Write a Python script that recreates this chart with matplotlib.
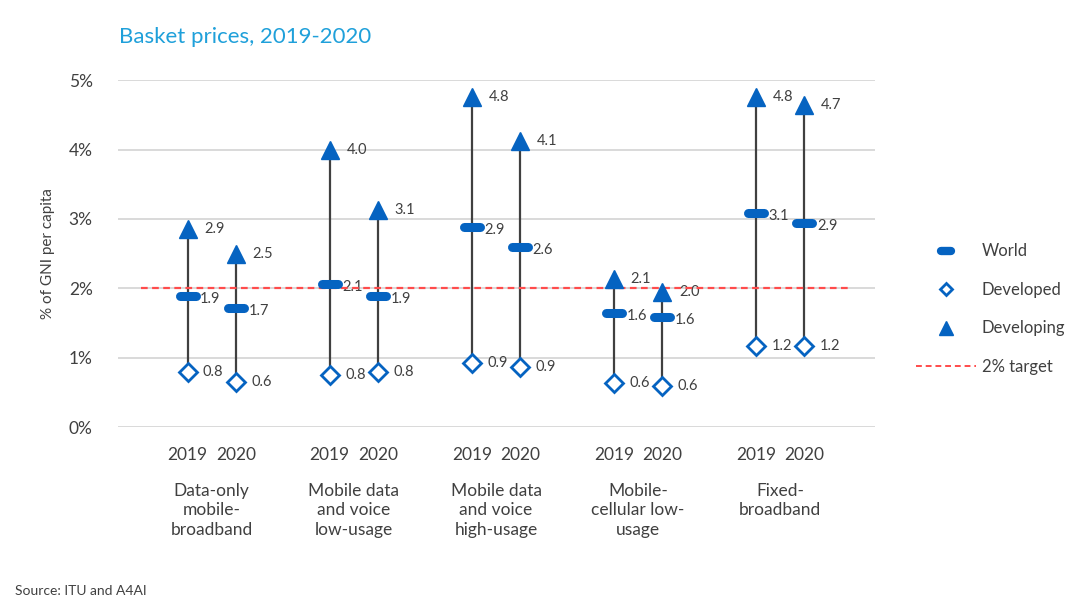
import matplotlib.pyplot as plt
import numpy as np
from matplotlib.lines import Line2D
from matplotlib.markers import MarkerStyle

categories = ["Data-only\nmobile-\nbroadband", "Mobile data\nand voice\nlow-usage",
              "Mobile data\nand voice\nhigh-usage", "Mobile-\ncellular low-\nusage",
              "Fixed-\nbroadband"]
years = ["2019", "2020"]
# values per category: [2019, 2020]
world = [[1.89, 1.71], [2.06, 1.89], [2.88, 2.59], [1.64, 1.59], [3.08, 2.94]]
developed = [[0.79, 0.65], [0.75, 0.79], [0.92, 0.86], [0.63, 0.59], [1.17, 1.17]]
developing = [[2.85, 2.50], [3.99, 3.13], [4.76, 4.13], [2.13, 1.95], [4.76, 4.64]]
world_lbl = [["1.9", "1.7"], ["2.1", "1.9"], ["2.9", "2.6"], ["1.6", "1.6"], ["3.1", "2.9"]]
dev_lbl = [["0.8", "0.6"], ["0.8", "0.8"], ["0.9", "0.9"], ["0.6", "0.6"], ["1.2", "1.2"]]
devg_lbl = [["2.9", "2.5"], ["4.0", "3.1"], ["4.8", "4.1"], ["2.1", "2.0"], ["4.8", "4.7"]]
target = 2.0

blue = "#0563c1"
txt = "#404040"
plt.rcParams['font.family'] = ["Lato", "DejaVu Sans"]

fig = plt.figure(figsize=(10.8, 5.99), dpi=100)
ax = fig.add_axes([0.109, 0.287, 0.701, 0.579])

off = 0.17
bar = MarkerStyle('_', capstyle='round')
for i in range(len(categories)):
    for j, sgn in enumerate([-1, 1]):
        x = i + sgn * off
        ax.plot([x, x], [developed[i][j], developing[i][j]], color=txt, lw=1.6, zorder=2)
        ax.plot(x, developing[i][j], marker='^', ms=13, color=blue, zorder=4)
        ax.plot(x, world[i][j], marker=bar, ms=11, mew=6.5, color=blue, zorder=4)
        ax.plot(x, developed[i][j], marker='D', ms=9, mfc='white', mec=blue, mew=2, zorder=4)
        ax.annotate(devg_lbl[i][j], (x, developing[i][j]), xytext=(12, 0), textcoords='offset points',
                    va='center', fontsize=10.5, color=txt)
        ax.annotate(world_lbl[i][j], (x, world[i][j]), xytext=(9, -2), textcoords='offset points',
                    va='center', fontsize=10.5, color=txt)
        ax.annotate(dev_lbl[i][j], (x, developed[i][j]), xytext=(11, 0), textcoords='offset points',
                    va='center', fontsize=10.5, color=txt)

ax.plot([-0.5, 4.5], [target, target], color="#ff4b4b", lw=1.6, ls=(0, (3, 2)), zorder=3)

ax.set_xlim(-0.662, 4.665)
ax.set_ylim(0, 5)
ax.set_yticks(range(6))
ax.set_yticklabels([f"{v}%" for v in range(6)], fontsize=12.5, color=txt)
ax.yaxis.grid(True, color="#d9d9d9", lw=1.4)
ax.set_axisbelow(True)
for s in ax.spines.values():
    s.set_visible(False)
ax.tick_params(axis='y', length=0, pad=18)
ax.tick_params(axis='x', length=0, pad=14)
xt = [i + s * off for i in range(len(categories)) for s in (-1, 1)]
ax.set_xticks(xt)
ax.set_xticklabels(years * len(categories), fontsize=12.5, color=txt)
for i, c in enumerate(categories):
    ax.text(i, -0.8, c, ha='center', va='top', fontsize=12.5, color=txt,
            linespacing=1.3, transform=ax.transData)
ax.set_ylabel("% of GNI per capita", fontsize=11, color=txt, labelpad=10)

handles = [
    Line2D([], [], ls='none', marker=bar, ms=7, mew=6, color=blue),
    Line2D([], [], ls='none', marker='D', ms=6.5, mfc='white', mec=blue, mew=2),
    Line2D([], [], ls='none', marker='^', ms=10, color=blue),
    Line2D([], [], color="#ff4b4b", lw=1.4, ls=(0, (3, 2))),
]
fig.legend(handles, ["World", "Developed", "Developing", "2% target"], loc='center left',
           bbox_to_anchor=(0.834, 0.484), frameon=False, fontsize=12, labelspacing=1.35,
           handlelength=3.6, handletextpad=0.35, labelcolor=txt)

fig.text(0.11, 0.955, "Basket prices, 2019-2020", fontsize=16, color="#1fa0da", va='top')
fig.text(0.014, 0.003, "Source: ITU and A4AI", fontsize=10, color=txt, va='bottom')

fig.savefig("out.png", dpi=100)
